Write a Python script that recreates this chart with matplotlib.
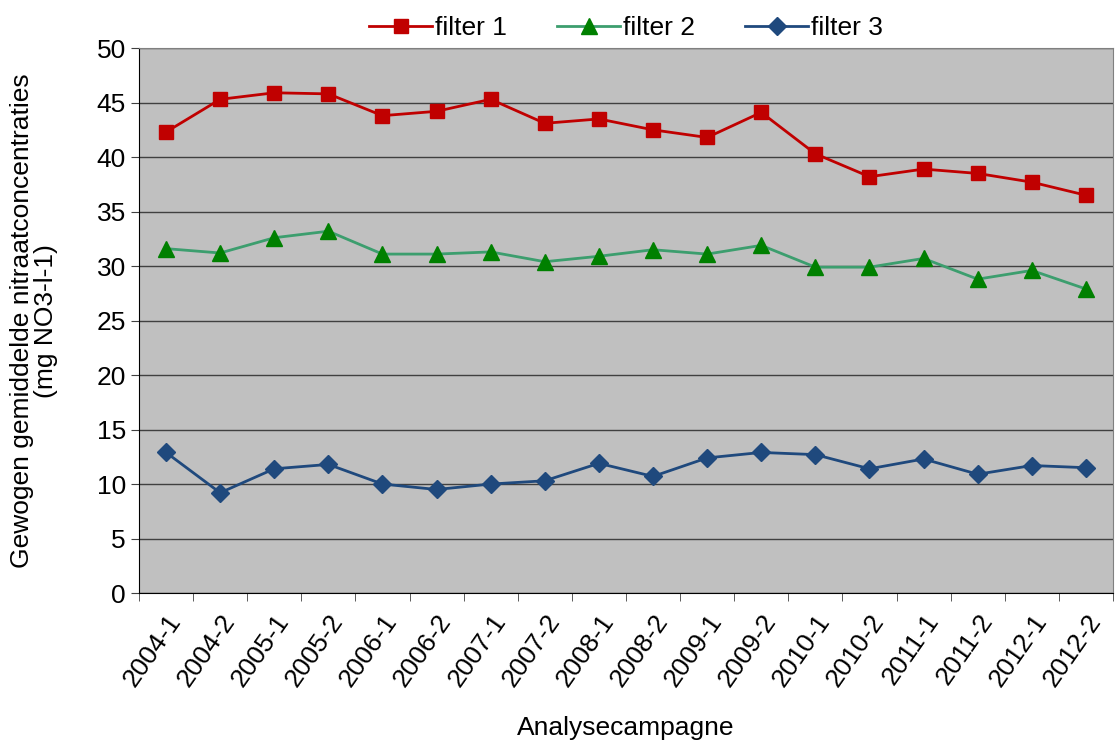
import matplotlib
matplotlib.use("Agg")
import matplotlib.pyplot as plt
import numpy as np

campaigns = ["2004-1", "2004-2", "2005-1", "2005-2", "2006-1", "2006-2",
             "2007-1", "2007-2", "2008-1", "2008-2", "2009-1", "2009-2",
             "2010-1", "2010-2", "2011-1", "2011-2", "2012-1", "2012-2"]
filter1 = [42.3, 45.3, 45.9, 45.8, 43.8, 44.2, 45.3, 43.1, 43.5, 42.5,
           41.8, 44.1, 40.3, 38.2, 38.9, 38.5, 37.7, 36.5]
filter2 = [31.6, 31.2, 32.6, 33.2, 31.1, 31.1, 31.3, 30.4, 30.9, 31.5,
           31.1, 31.9, 29.9, 29.9, 30.7, 28.8, 29.6, 27.9]
filter3 = [12.9, 9.2, 11.4, 11.8, 10.0, 9.5, 10.0, 10.3, 11.9, 10.7,
           12.4, 12.9, 12.7, 11.4, 12.3, 10.9, 11.7, 11.5]

plt.rcParams["font.family"] = ["Liberation Sans", "DejaVu Sans"]

fig = plt.figure(figsize=(11.18, 7.4), dpi=100)
ax = fig.add_axes([0.1243, 0.1986, 0.8712, 0.7364])
ax.set_facecolor("#C0C0C0")

x = np.arange(len(campaigns))
ax.plot(x, filter1, color="#C00000", lw=2, marker="s", ms=10,
        mfc="#C00000", mec="#C00000", label="filter 1", zorder=3)
ax.plot(x, filter2, color="#3C9E6E", lw=2, marker="^", ms=11,
        mfc="#008000", mec="#008000", label="filter 2", zorder=3)
ax.plot(x, filter3, color="#1F497D", lw=2, marker="D", ms=9,
        mfc="#1F497D", mec="#1F497D", label="filter 3", zorder=3)

ax.set_xlim(-0.5, len(campaigns) - 0.5)
ax.set_ylim(0, 50)
ax.set_yticks(np.arange(0, 51, 5))
ax.yaxis.grid(True, color="#404040", lw=1)
ax.set_axisbelow(True)

ax.set_xticks(x)
ax.set_xticklabels(campaigns, rotation=55, ha="right", rotation_mode="anchor")
ax.set_xticks(np.arange(-0.5, len(campaigns)), minor=True)
ax.tick_params(axis="x", which="major", length=0, pad=12, labelsize=19)
ax.tick_params(axis="x", which="minor", length=6, color="#404040")
ax.tick_params(axis="y", length=6, labelsize=19, color="#404040")

for s in ["top", "right"]:
    ax.spines[s].set_color("#808080")
ax.spines["left"].set_color("black")
ax.spines["bottom"].set_color("black")

ax.set_ylabel("Gewogen gemiddelde nitraatconcentraties\n(mg NO3-l-1)",
              fontsize=19, linespacing=1.0, labelpad=28)
ax.set_xlabel("Analysecampagne", fontsize=19, labelpad=18)

ax.legend(loc="lower center", bbox_to_anchor=(0.5, 0.995), ncol=3,
          frameon=False, fontsize=19, handlelength=2.4, columnspacing=1.9,
          handletextpad=0.1, borderaxespad=0)

fig.savefig("out.png", dpi=100)
